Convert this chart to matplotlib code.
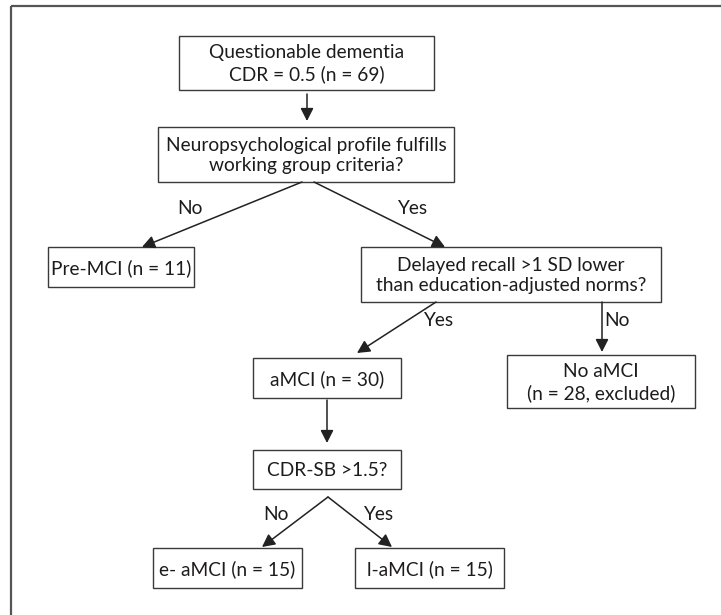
import matplotlib
matplotlib.use("Agg")
import matplotlib.pyplot as plt
from matplotlib.patches import Rectangle, FancyArrowPatch

plt.rcParams['font.family'] = ['Lato', 'DejaVu Sans']

# ---- content (text of each node) ----
node_names = ["start", "neuro", "premci", "delayed", "amci", "noamci", "cdrsb", "eamci", "lamci"]
node_texts = [
    "Questionable dementia\nCDR = 0.5 (n = 69)",
    "Neuropsychological profile fulfills\nworking group criteria?",
    "Pre-MCI (n = 11)",
    "Delayed recall >1 SD lower\nthan education-adjusted norms?",
    "aMCI (n = 30)",
    "No aMCI\n(n = 28, excluded)",
    "CDR-SB >1.5?",
    "e- aMCI (n = 15)",
    "l-aMCI (n = 15)",
]
edge_labels = ["No", "Yes", "Yes", "No", "No", "Yes"]

# ---- layout (pixel coordinates, y downwards) ----
box_pos = {
    "start":   (179, 36, 434, 90),
    "neuro":   (158, 127, 454, 182),
    "premci":  (48, 247, 194, 287),
    "delayed": (361, 247, 661, 302),
    "amci":    (253, 358, 401, 398),
    "noamci":  (507, 355, 695, 408),
    "cdrsb":   (253, 450, 401, 489),
    "eamci":   (153, 548, 302, 588),
    "lamci":   (355, 548, 504, 588),
}
arrows = [
    ((307, 94), (307, 121)),
    ((302, 182), (142, 247)),
    ((314, 182), (445, 247)),
    ((436, 302), (357, 353)),
    ((602, 302), (602, 352)),
    ((327, 400), (327, 443)),
    ((328, 497), (262, 547)),
    ((328, 497), (392, 547)),
]
label_pos = [(190, 209), (412, 209), (438, 321), (617, 321), (276, 515), (378, 515)]

W, H = 721, 615
fig = plt.figure(figsize=(W / 100, H / 100), dpi=100)
ax = fig.add_axes([0, 0, 1, 1])
ax.set_xlim(0, W)
ax.set_ylim(H, 0)
ax.axis("off")

text_color = "#1e1b1c"
line_color = "#3a3a3a"
fs = 13.8

# outer frame (only left and top visible)
ax.plot([11, 11], [H + 5, 6], color="#555555", lw=1.6, solid_capstyle="butt")
ax.plot([11, W + 5], [6, 6], color="#555555", lw=1.6, solid_capstyle="butt")

for name, txt in zip(node_names, node_texts):
    x0, y0, x1, y1 = box_pos[name]
    ax.add_patch(Rectangle((x0, y0), x1 - x0, y1 - y0, fill=False,
                           edgecolor=line_color, lw=1.0))
    ax.text((x0 + x1) / 2, (y0 + y1) / 2 + 1, txt, ha="center", va="center",
            fontsize=fs, color=text_color, linespacing=1.28)

for (p0, p1) in arrows:
    arr = FancyArrowPatch(p0, p1, arrowstyle="-|>,head_length=0.55,head_width=0.28",
                          mutation_scale=14, color="#222222", lw=1.1,
                          shrinkA=0, shrinkB=0)
    ax.add_patch(arr)

for lab, (x, y) in zip(edge_labels, label_pos):
    ax.text(x, y, lab, ha="center", va="center", fontsize=fs, color=text_color)

fig.savefig("out.png", dpi=100)
